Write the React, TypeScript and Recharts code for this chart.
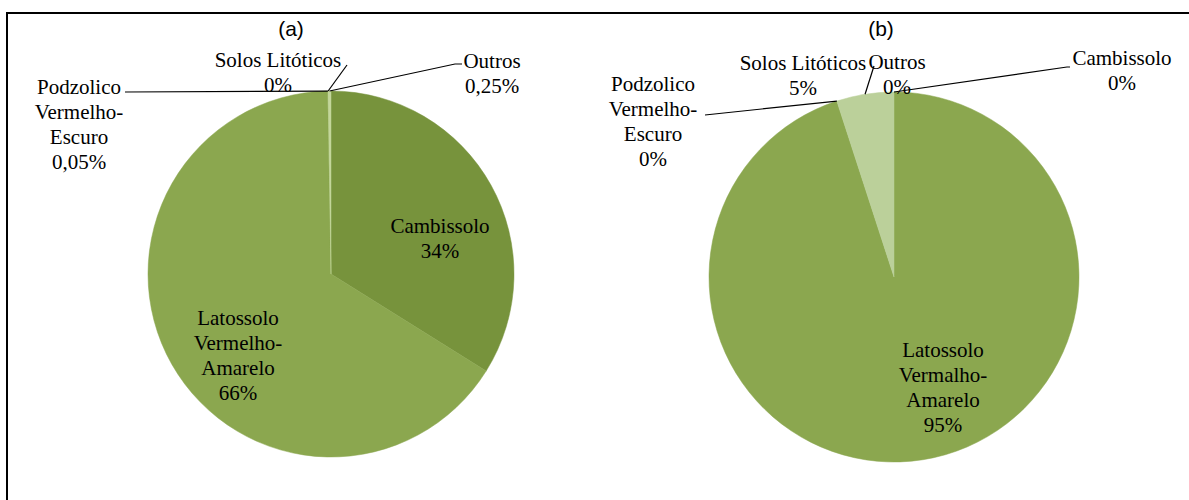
import React from "react";
import { PieChart, Pie, Cell } from "recharts";

// Soil classes, same order in both pies (clockwise from 12 o'clock, like Excel)
const categories = [
  "Cambissolo",
  "Latossolo Vermelho-Amarelo",
  "Podzolico Vermelho-Escuro",
  "Solos Litóticos",
  "Outros",
];
const valuesA = [34, 66, 0.05, 0, 0.25];
const valuesB = [0, 95, 0, 5, 0];

const labelTextA = [
  ["Cambissolo"],
  ["Latossolo", "Vermelho-", "Amarelo"],
  ["Podzolico", "Vermelho-", "Escuro"],
  ["Solos Litóticos"],
  ["Outros"],
];
const labelTextB = [
  ["Cambissolo"],
  ["Latossolo", "Vermalho-", "Amarelo"],
  ["Podzolico", "Vermelho-", "Escuro"],
  ["Solos Litóticos"],
  ["Outros"],
];

const titles = ["(a)", "(b)"];

const colors = ["#77933C", "#8BA74F", "#8BA74F", "#BBD09A", "#C3D69B"];

const RADIAN = Math.PI / 180;
const LINE_H = 25;
const SERIF = '"Liberation Serif", "Times New Roman", Times, serif';

type LabelPos = { tx: number; ty: number; leader?: Array<[number, number]> };

// label placement relative to each pie centre (manual, as in the original Excel layout)
const layoutA: LabelPos[] = [
  { tx: 109, ty: -48 },
  { tx: -93, ty: 44 },
  { tx: -252, ty: -187, leader: [[-206, -182]] },
  { tx: -53, ty: -214, leader: [[16, -209]] },
  { tx: 161, ty: -213, leader: [[124, -210], [131, -210]] },
];
const layoutB: LabelPos[] = [
  { tx: 228, ty: -219, leader: [[173, -210], [176, -210]] },
  { tx: 49, ty: 73 },
  { tx: -241, ty: -193, leader: [[-189, -162]] },
  { tx: -91, ty: -214, leader: [[-20, -211]] },
  { tx: 3, ty: -215 },
];

const fmtPct = (v: number) =>
  (v > 0 && v < 1 ? v.toFixed(2).replace(".", ",") : String(Math.round(v))) + "%";

function makeLabel(lines: string[][], layout: LabelPos[], values: number[]) {
  return (props: any) => {
    const { cx, cy, midAngle, outerRadius, index } = props;
    const pos = layout[index];
    const text = [...lines[index], fmtPct(values[index])];
    const ax = cx + outerRadius * Math.cos(-midAngle * RADIAN);
    const ay = cy + outerRadius * Math.sin(-midAngle * RADIAN);
    const pts = pos.leader
      ? [[ax, ay], ...pos.leader.map(([x, y]) => [cx + x, cy + y])]
      : null;
    return (
      <g key={`lbl-${index}`}>
        {pts && (
          <polyline
            points={pts.map((p) => p.join(",")).join(" ")}
            fill="none"
            stroke="#000"
            strokeWidth={1.2}
          />
        )}
        <text
          x={cx + pos.tx}
          y={cy + pos.ty}
          textAnchor="middle"
          style={{ fontFamily: SERIF, fontSize: 21 }}
          fill="#000"
        >
          {text.map((t, i) => (
            <tspan key={i} x={cx + pos.tx} y={cy + pos.ty + i * LINE_H} dominantBaseline="central">
              {t}
            </tspan>
          ))}
        </text>
      </g>
    );
  };
}

export default function App() {
  const dataA = categories.map((name, i) => ({ name, value: valuesA[i] }));
  const dataB = categories.map((name, i) => ({ name, value: valuesB[i] }));

  return (
    <div style={{ position: "absolute", left: 0, top: 0, width: 1189, height: 500, background: "#fff", overflow: "hidden" }}>
      <div
        style={{
          position: "absolute",
          left: 6,
          top: 12,
          width: 1200,
          height: 500,
          borderTop: "2px solid #000",
          borderLeft: "2px solid #000",
        }}
      />
      {titles.map((t, i) => (
        <div
          key={t}
          style={{
            position: "absolute",
            left: i === 0 ? 291 - 30 : 881 - 30,
            top: 16,
            width: 60,
            textAlign: "center",
            fontFamily: "'Liberation Sans', Arial, sans-serif",
            fontSize: 21,
            lineHeight: "26px",
          }}
        >
          {t}
        </div>
      ))}
      <div style={{ position: "absolute", left: 0, top: 0 }}>
        <PieChart width={1189} height={500} margin={{ top: 0, right: 0, bottom: 0, left: 0 }}>
          <Pie
            data={dataA}
            dataKey="value"
            nameKey="name"
            cx={331}
            cy={274}
            outerRadius={183}
            startAngle={90}
            endAngle={-270}
            isAnimationActive={false}
            labelLine={false}
            label={makeLabel(labelTextA, layoutA, valuesA)}
          >
            {dataA.map((d, i) => (
              <Cell key={d.name} fill={colors[i]} stroke={colors[i]} strokeWidth={0.5} />
            ))}
          </Pie>
          <Pie
            data={dataB}
            dataKey="value"
            nameKey="name"
            cx={894}
            cy={277}
            outerRadius={185}
            startAngle={90}
            endAngle={-270}
            isAnimationActive={false}
            labelLine={false}
            label={makeLabel(labelTextB, layoutB, valuesB)}
          >
            {dataB.map((d, i) => (
              <Cell key={d.name} fill={colors[i === 0 ? 1 : i]} stroke={colors[i === 0 ? 1 : i]} strokeWidth={0.5} />
            ))}
          </Pie>
        </PieChart>
      </div>
    </div>
  );
}
